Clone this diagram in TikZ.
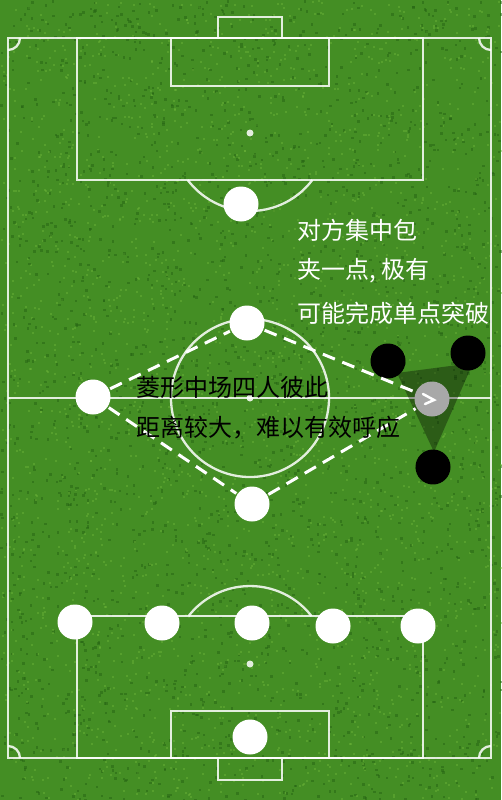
\documentclass[tikz,border=0pt]{standalone}
\usepackage{fontspec}
\newfontfamily\cjk{Noto Sans CJK SC}
\usetikzlibrary{calc}
\definecolor{grass}{RGB}{68,142,36}
\definecolor{grassdark}{RGB}{38,100,20}
\definecolor{grasslight}{RGB}{110,180,58}
\definecolor{greyplayer}{RGB}{168,168,168}
\begin{document}
\begin{tikzpicture}[x=1pt,y=-1pt,
  pitchline/.style={draw=white,draw opacity=0.85,line width=2.3pt},
  player/.style={circle,minimum size=35pt,inner sep=0pt,outer sep=1.5pt},
  ours/.style={player,fill=white},
  theirs/.style={player,fill=black},
  focus/.style={player,fill=greyplayer},
  dashline/.style={draw=white,line width=3pt,dash pattern=on 13pt off 8pt},
  label/.style={anchor=west,inner sep=0pt,font=\cjk\fontsize{24}{24}\selectfont}]
% background
\useasboundingbox (0,0) rectangle (501,800);
\fill[grass] (0,0) rectangle (501,800);
\pgfmathsetseed{7}
\foreach \i in {1,...,2400}{
  \fill[grassdark,opacity=0.5] ({501*rnd},{800*rnd}) rectangle ++(2.5,2.5);
  \fill[grasslight,opacity=0.45] ({501*rnd},{800*rnd}) rectangle ++(2,2);
}
% pitch lines
\draw[pitchline] (8,38) rectangle (491,758);
\draw[pitchline] (8,398) -- (491,398);
\draw[pitchline] (250,398) circle[radius=79];
\fill[white,opacity=0.85] (250,398) circle[radius=3.5];
% top end
\draw[pitchline] (77,38) rectangle (423,180);
\draw[pitchline] (171,38) rectangle (329,86);
\draw[pitchline] (218,17) rectangle (282,38);
\fill[white,opacity=0.85] (250,133) circle[radius=3.5];
\draw[pitchline] (312.3,180) arc[start angle=37,end angle=143,radius=78];
% bottom end
\draw[pitchline] (77,616) rectangle (423,758);
\draw[pitchline] (171,711) rectangle (329,758);
\draw[pitchline] (218,758) rectangle (282,780);
\fill[white,opacity=0.85] (250,664) circle[radius=3.5];
\draw[pitchline] (311.5,616) arc[start angle=-38,end angle=-142,radius=78];
% corners
\draw[pitchline] (20,38) arc[start angle=0,end angle=90,radius=12];
\draw[pitchline] (491,50) arc[start angle=90,end angle=180,radius=12];
\draw[pitchline] (8,746) arc[start angle=-90,end angle=0,radius=12];
\draw[pitchline] (479,758) arc[start angle=180,end angle=270,radius=12];
% pressure triangle
\fill[black,opacity=0.35] (397,373) -- (473,363) -- (434,452) -- cycle;
% players
\node[ours] (st) at (241,204) {};
\node[ours] (mt) at (247,323) {};
\node[ours] (ml) at (93,397) {};
\node[ours] (mb) at (252,504) {};
\node[ours] (d1) at (75,622) {};
\node[ours] (d2) at (162,623) {};
\node[ours] (d3) at (252,623) {};
\node[ours] (d4) at (333,626) {};
\node[ours] (d5) at (418,626) {};
\node[ours] (gk) at (250,737) {};
\node[theirs] (o1) at (388,361) {};
\node[theirs] (o2) at (468,353) {};
\node[theirs] (o3) at (433,467) {};
\node[focus] (mr) at (432,399) {};
% diamond connectors
\draw[dashline] (ml) -- (mt);
\draw[dashline] (ml) -- (mb);
\draw[dashline] (mb) -- (mr);
\draw[dashline] (mt) -- (mr);
\draw[white,line width=2.5pt,line cap=round,line join=miter]
  ($(mr.center)+(-9,-5)$) -- ($(mr.center)+(2,1)$) -- ($(mr.center)+(-7,5)$);
% texts
\node[label,text=white] (w1) at (297,230) {对方集中包};
\node[label,text=white] (w2) at (297,271) {夹一点, 极有};
\node[label,text=white] (w3) at (297,313) {可能完成单点突破};
\node[label,text=black] (b1) at (136,387) {菱形中场四人彼此};
\node[label,text=black] (b2) at (136,428) {距离较大，难以有效呼应};
\end{tikzpicture}
\end{document}
